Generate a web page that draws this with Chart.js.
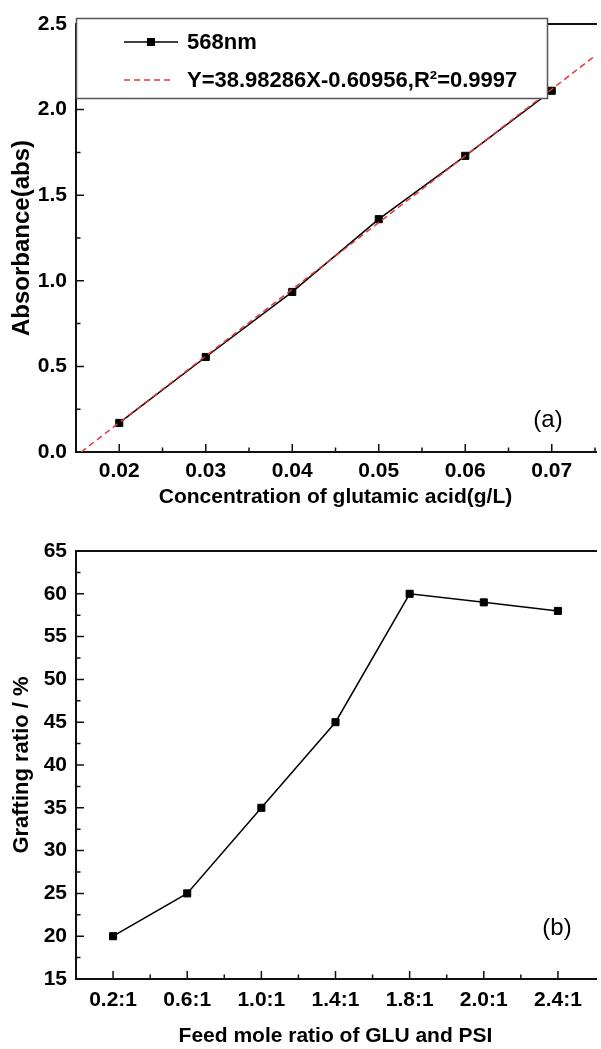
<!DOCTYPE html>
<html><head><meta charset="utf-8">
<script src="https://cdn.jsdelivr.net/npm/chart.js@4"></script>
<style>
html,body{margin:0;padding:0;background:#fff;overflow:hidden;}
#wrapA{position:absolute;left:0;top:0;width:601px;height:515px;}
#wrapB{position:absolute;left:0;top:515px;width:601px;height:534px;}
canvas{display:block}
</style></head><body>
<div id="wrapA"><canvas id="chartA" width="601" height="515"></canvas></div>
<div id="wrapB"><canvas id="chartB" width="601" height="534"></canvas></div>
<script>
// ---- Panel (a) data ----
const concX = [0.02, 0.03, 0.04, 0.05, 0.06, 0.07];
const absY  = [0.17, 0.555, 0.935, 1.36, 1.73, 2.11];
const fitX  = [0.0156, 0.075];
const fitY  = [0.0, 2.314];
const aXTicks = [0.02, 0.03, 0.04, 0.05, 0.06, 0.07];
const aYTicks = [0.0, 0.5, 1.0, 1.5, 2.0, 2.5];
const aSeriesNames = ['568nm', 'Y=38.98286X-0.60956,R\u00B2=0.9997'];
const aXTitle = 'Concentration of glutamic acid(g/L)';
const aYTitle = 'Absorbance(abs)';
const aPanel = '(a)';
// ---- Panel (b) data ----
const ratioCats = ['0.2:1', '0.6:1', '1.0:1', '1.4:1', '1.8:1', '2.0:1', '2.4:1'];
const graftY = [20, 25, 35, 45, 60, 59, 58];
const bYTicks = [15, 20, 25, 30, 35, 40, 45, 50, 55, 60, 65];
const bXTitle = 'Feed mole ratio of GLU and PSI';
const bYTitle = 'Grafting ratio / %';
const bPanel = '(b)';

const FAM = '"Liberation Sans", Arial, Helvetica, sans-serif';

function mids(arr){ const r=[]; for(let i=0;i<arr.length-1;i++) r.push((arr[i]+arr[i+1])/2); return r; }

const framePlugin = {
  id: 'frame',
  beforeDatasetsDraw(chart, args, o) {
    const {ctx, chartArea: a, scales: {x, y}} = chart;
    ctx.save();
    ctx.strokeStyle = '#111';
    ctx.lineWidth = 2;
    ctx.beginPath();
    ctx.moveTo(a.left, a.top - 1); ctx.lineTo(a.left, a.bottom);
    ctx.lineTo(a.right + 2, a.bottom);
    ctx.moveTo(a.left - 1, a.top); ctx.lineTo(a.right + 2, a.top);
    ctx.stroke();
    ctx.lineWidth = 1.5;
    ctx.beginPath();
    o.xMajor.forEach(v => { const p = x.getPixelForValue(v); ctx.moveTo(p, a.bottom); ctx.lineTo(p, a.bottom - 8); });
    o.xMinor.forEach(v => { const p = x.getPixelForValue(v); ctx.moveTo(p, a.bottom); ctx.lineTo(p, a.bottom - 4.5); });
    o.yMajor.forEach(v => { const p = y.getPixelForValue(v); ctx.moveTo(a.left, p); ctx.lineTo(a.left + 8, p); });
    o.yMinor.forEach(v => { const p = y.getPixelForValue(v); ctx.moveTo(a.left, p); ctx.lineTo(a.left + 4.5, p); });
    ctx.stroke();
    ctx.restore();
  },
  afterDraw(chart, args, o) {
    const ctx = chart.ctx;
    ctx.save();
    ctx.fillStyle = '#000';
    ctx.font = '24px ' + FAM;
    ctx.textAlign = 'center';
    ctx.textBaseline = 'middle';
    ctx.fillText(o.panel, o.panelX, o.panelY);
    ctx.restore();
  }
};

const legendPlugin = {
  id: 'boxLegend',
  afterDatasetsDraw(chart, args, o) {
    if (!o.show) return;
    const ctx = chart.ctx;
    ctx.save();
    ctx.fillStyle = '#fff';
    ctx.fillRect(o.left, o.top, o.width, o.height);
    ctx.strokeStyle = '#555';
    ctx.lineWidth = 1.5;
    ctx.strokeRect(o.left + 0.5, o.top + 0.5, o.width, o.height);
    chart.data.datasets.forEach((ds, i) => {
      const yy = o.top + o.row0 + i * o.rowGap;
      ctx.strokeStyle = ds.borderColor;
      ctx.lineWidth = ds.borderWidth;
      ctx.setLineDash(ds.borderDash || []);
      ctx.beginPath();
      ctx.moveTo(o.sampleX0, yy);
      ctx.lineTo(ds.pointRadius > 0 ? o.sampleX1 : o.sampleX1 - 6, yy);
      ctx.stroke();
      ctx.setLineDash([]);
      if (ds.pointRadius > 0) {
        ctx.fillStyle = ds.pointBackgroundColor;
        const m = (o.sampleX0 + o.sampleX1) / 2;
        ctx.fillRect(m - 4, yy - 4, 8, 8);
      }
      ctx.fillStyle = '#000';
      ctx.font = 'bold 22px ' + FAM;
      ctx.textAlign = 'left';
      ctx.textBaseline = 'middle';
      ctx.fillText(ds.label, o.textX, yy + 1);
    });
    ctx.restore();
  }
};

const tickFont = {family: FAM, size: 21, weight: 'bold'};

new Chart(document.getElementById('chartA'), {
  type: 'line',
  data: {
    datasets: [
      {label: aSeriesNames[0], data: concX.map((v, i) => ({x: v, y: absY[i]})),
       borderColor: '#000', borderWidth: 1.5, pointStyle: 'rect', pointRadius: 5,
       pointBackgroundColor: '#000', pointBorderColor: '#000', pointBorderWidth: 1, order: 1},
      {label: aSeriesNames[1], data: fitX.map((v, i) => ({x: v, y: fitY[i]})),
       borderColor: '#e8343c', borderWidth: 1.5, borderDash: [6, 4], pointRadius: 0, order: 0}
    ]
  },
  options: {
    responsive: false, animation: false, devicePixelRatio: 1,
    layout: {padding: {top: 24, right: 0, left: 0, bottom: 0}},
    plugins: {
      legend: {display: false}, tooltip: {enabled: false},
      frame: {xMajor: aXTicks, xMinor: mids(aXTicks).concat([0.015, 0.075]), yMajor: aYTicks, yMinor: mids(aYTicks), panel: aPanel, panelX: 548, panelY: 420},
      boxLegend: {show: true, left: 76, top: 18, width: 471, height: 80, row0: 24, rowGap: 38, sampleX0: 124, sampleX1: 178, textX: 187}
    },
    scales: {
      x: {type: 'linear', min: 0.015, max: 0.075,
          afterBuildTicks: s => { s.ticks = aXTicks.map(v => ({value: v})); },
          afterFit: s => { s.height = 63; },
          grid: {display: false, drawTicks: false}, border: {display: false},
          ticks: {color: '#000', font: tickFont, padding: 7, maxRotation: 0, autoSkip: false, callback: v => Number(v).toFixed(2)},
          title: {display: true, text: aXTitle, color: '#000', font: {family: FAM, size: 21, weight: 'bold', lineHeight: 1}, padding: {top: 0, bottom: 7}}},
      y: {type: 'linear', min: 0, max: 2.5,
          afterBuildTicks: s => { s.ticks = aYTicks.map(v => ({value: v})); },
          afterFit: s => { s.width = 76; },
          grid: {display: false, drawTicks: false}, border: {display: false},
          ticks: {color: '#000', font: tickFont, padding: 9, autoSkip: false, callback: v => Number(v).toFixed(1)},
          title: {display: true, text: aYTitle, color: '#000', font: {family: FAM, size: 24, weight: 'bold', lineHeight: 1}, padding: {top: 10, bottom: 0}}}
    }
  },
  plugins: [framePlugin, legendPlugin]
});

const catIdx = ratioCats.map((c, i) => i);
new Chart(document.getElementById('chartB'), {
  type: 'line',
  data: {
    labels: ratioCats,
    datasets: [
      {label: 'Grafting ratio', data: graftY, borderColor: '#000', borderWidth: 1.5,
       pointStyle: 'rect', pointRadius: 5, pointBackgroundColor: '#000', pointBorderColor: '#000', pointBorderWidth: 1}
    ]
  },
  options: {
    responsive: false, animation: false, devicePixelRatio: 1,
    layout: {padding: {top: 36, right: 0, left: 0, bottom: 0}},
    plugins: {
      legend: {display: false}, tooltip: {enabled: false},
      frame: {xMajor: catIdx, xMinor: mids(catIdx), yMajor: bYTicks, yMinor: mids(bYTicks), panel: bPanel, panelX: 557, panelY: 413},
      boxLegend: {show: false}
    },
    scales: {
      x: {type: 'category', offset: true,
          afterFit: s => { s.height = 70; },
          grid: {display: false, drawTicks: false}, border: {display: false},
          ticks: {color: '#000', font: tickFont, padding: 9, maxRotation: 0, autoSkip: false},
          title: {display: true, text: bXTitle, color: '#000', font: {family: FAM, size: 21, weight: 'bold', lineHeight: 1}, padding: {top: 0, bottom: 2}}},
      y: {type: 'linear', min: 15, max: 65,
          afterBuildTicks: s => { s.ticks = bYTicks.map(v => ({value: v})); },
          afterFit: s => { s.width = 76; },
          grid: {display: false, drawTicks: false}, border: {display: false},
          ticks: {color: '#000', font: tickFont, padding: 9, autoSkip: false, callback: v => String(v)},
          title: {display: true, text: bYTitle, color: '#000', font: {family: FAM, size: 22, weight: 'bold', lineHeight: 1}, padding: {top: 11, bottom: 0}}}
    }
  },
  plugins: [framePlugin, legendPlugin]
});
</script>
</body></html>
